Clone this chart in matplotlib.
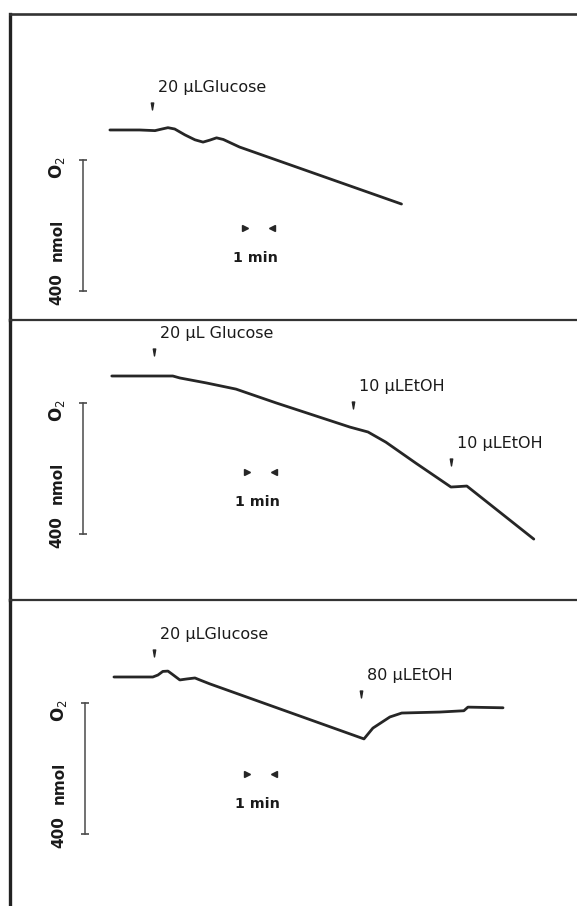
import numpy as np
import matplotlib
matplotlib.use("Agg")
import matplotlib.pyplot as plt
from matplotlib.path import Path
from matplotlib.transforms import offset_copy

plt.rcParams['font.family'] = ['DejaVu Sans']
plt.rcParams['mathtext.fontset'] = 'dejavusans'

# time in min, O2 change in nmol (relative to start of trace)
t1 = [0, 1.1, 1.67, 1.93, 2.15, 2.4, 2.78, 3.15, 3.45, 3.7, 3.95, 4.2, 4.8, 10.8]
o1 = [0, 0, -2, 3, 7, 3, -15, -30, -37, -31, -24, -29, -52, -226]

t2 = [0.07, 2.33, 2.59, 3.56, 4.67, 6.15, 7.52, 8.89, 9.56, 10.22, 11.33, 12.63, 12.85, 13.22, 15.7]
o2 = [0, 0, -6, -21, -40, -82, -119, -156, -171, -202, -266, -339, -338, -336, -498]

t3 = [0.15, 1.59, 1.78, 1.96, 2.15, 2.3, 2.59, 2.85, 3.15, 3.33, 3.7, 9.41, 9.74, 10.37, 10.81,
      12.22, 13.11, 13.26, 14.56]
o3 = [0, 0, 6, 17, 18, 9, -9, -6, -3, -9, -21, -189, -156, -122, -110, -107, -103, -92, -94]

# additions: time (min) and label
ev1_t = [1.56]
ev1_lab = ["20 \u03bcLGlucose"]
ev2_t = [1.63, 9.0, 12.63]
ev2_lab = ["20 \u03bcL Glucose", "10 \u03bcLEtOH", "10 \u03bcLEtOH"]
ev3_t = [1.63, 9.30]
ev3_lab = ["20 \u03bcLGlucose", "80 \u03bcLEtOH"]

bar_nmol = 400   # calibration bar
bar_min = 1      # time marker

INK = "#262626"
wedge = Path([(-0.55, 1.6), (0.55, 1.6), (0, -1.6), (-0.55, 1.6)],
             [Path.MOVETO, Path.LINETO, Path.LINETO, Path.CLOSEPOLY])

W, H = 577, 906
fig = plt.figure(figsize=(W / 100, H / 100), dpi=100)
fig.patch.set_facecolor("white")

panels = [
    # (top px, bottom px, ylim, trace, events, lifts, bar t, bar top, 1min t, 1min y)
    (14, 320, (-580, 354), (t1, o1), (ev1_t, ev1_lab), [25], -1.0, -92, 5.0, -300),
    (320, 600, (-684, 171), (t2, o2), (ev2_t, ev2_lab), [24, 23, 25], -1.0, -82, 5.07, -293),
    (600, 906, (-699, 235), (t3, o3), (ev3_t, ev3_lab), [24, 44], -0.93, -79, 5.07, -296),
]

for i, (top, bot, ylim, (t, o), (et, el), lifts, bx, btop, mt, my) in enumerate(panels):
    ax = fig.add_axes([10 / W, 1 - bot / H, 1 - 10 / W, (bot - top) / H])
    ax.set_xlim(-3.7, 17.3)
    ax.set_ylim(*ylim)
    ax.set_xticks([])
    ax.set_yticks([])
    ax.patch.set_alpha(0)
    for s in ["right", "bottom"]:
        ax.spines[s].set_visible(False)
    ax.spines["left"].set_linewidth(2.4)
    ax.spines["left"].set_color("#222222")
    ax.spines["top"].set_linewidth(1.9 if i == 0 else 1.6)
    ax.spines["top"].set_color("#333333")

    # trace
    ax.plot(t, o, color=INK, lw=2.0, solid_capstyle="round", solid_joinstyle="round")

    # addition markers
    for te, lab, lift in zip(et, el, lifts):
        yv = np.interp(te, t, o)
        tr = offset_copy(ax.transData, fig=fig, x=0, y=lift, units="dots")
        ax.plot([te], [yv], marker=wedge, ms=5, color=INK, ls="none", transform=tr)
        tr2 = offset_copy(ax.transData, fig=fig, x=6, y=lift + 14, units="dots")
        ax.text(te, yv, lab, transform=tr2, ha="left", va="baseline",
                fontsize=11.5, color="#1a1a1a")

    # nmol calibration bar
    ax.plot([bx, bx], [btop, btop - bar_nmol], color="#4a4a4a", lw=1.1,
            marker="_", ms=6, mew=1.2)
    tr = offset_copy(ax.transData, fig=fig, x=-26, y=-8, units="dots")
    ax.text(bx, btop, "O$_2$", transform=tr, rotation=90, ha="center", va="center",
            fontsize=12, fontweight="bold", color="#1a1a1a")
    tr = offset_copy(ax.transData, fig=fig, x=-26, y=-80, units="dots")
    ax.text(bx, btop, "nmol", transform=tr, rotation=90, ha="center", va="center",
            fontsize=11, fontweight="bold", color="#1a1a1a")
    tr = offset_copy(ax.transData, fig=fig, x=-26, y=2, units="dots")
    ax.text(bx, btop - bar_nmol, "400", transform=tr, rotation=90, ha="center",
            va="center", fontsize=11, fontweight="bold", color="#1a1a1a")

    # 1 min marker
    ax.plot([mt], [my], marker=">", ms=5, color=INK, ls="none")
    ax.plot([mt + bar_min], [my], marker="<", ms=5, color=INK, ls="none")
    tr = offset_copy(ax.transData, fig=fig, x=11, y=-30, units="dots")
    ax.text(mt, my, "1 min", transform=tr, ha="center", va="center",
            fontsize=10.3, fontweight="bold", color="#1a1a1a")

fig.savefig("out.png", dpi=100, facecolor="white")
